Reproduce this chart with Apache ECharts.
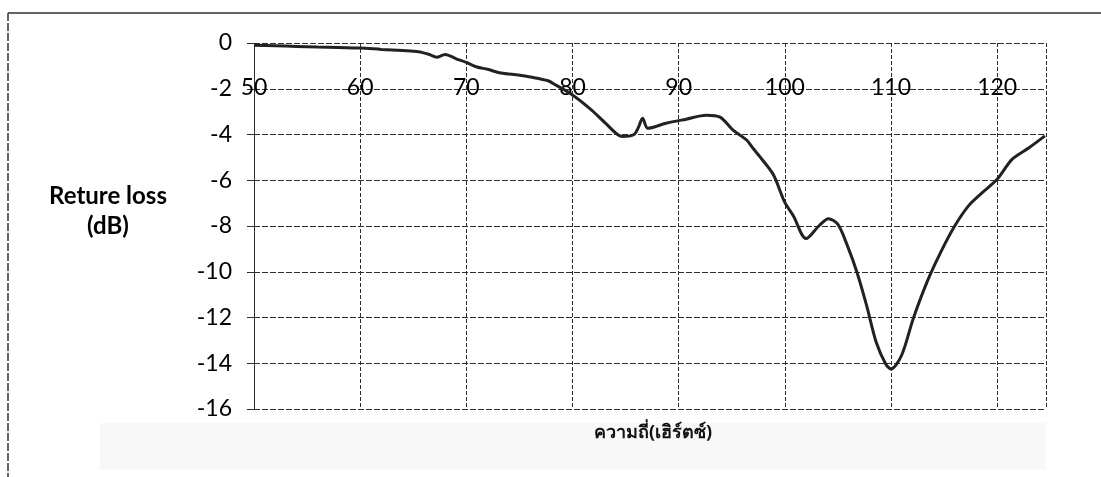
<!DOCTYPE html>
<html>
<head>
<meta charset="utf-8">
<script src="https://cdn.jsdelivr.net/npm/echarts@6/dist/echarts.min.js"></script>
<style>
html,body{margin:0;padding:0;background:#fff;}
#chart{width:1101px;height:477px;}
</style>
</head>
<body>
<div id="chart"></div>
<script>
// Frequency values (x) and return loss (dB)
const freq = [50, 52, 54, 56, 58, 60, 62, 64, 65.5, 66.5, 67.2, 68, 69, 70, 71, 72, 73.1, 74.5, 76.2, 77.7, 78.4, 80, 81.8, 83.1, 84.7, 85.8, 86.2, 86.6, 87.1, 88.8, 90.7, 92.6, 93.9, 95.1, 96.4, 97.0, 97.7, 98.9, 100, 100.8, 102.0, 103.2, 104.1, 105.0, 105.9, 106.8, 107.7, 108.6, 109.5, 110.0, 111.0, 112.1, 113.4, 114.7, 116.0, 117.3, 118.6, 120, 121.4, 123.0, 124.5];
const loss = [-0.1, -0.12, -0.15, -0.18, -0.2, -0.22, -0.28, -0.33, -0.38, -0.5, -0.62, -0.5, -0.68, -0.85, -1.05, -1.15, -1.3, -1.38, -1.5, -1.65, -1.83, -2.27, -2.93, -3.5, -4.09, -4.0, -3.7, -3.29, -3.73, -3.51, -3.33, -3.16, -3.24, -3.8, -4.24, -4.6, -5.0, -5.74, -6.97, -7.55, -8.55, -8.0, -7.68, -7.93, -8.87, -10.03, -11.47, -13.07, -14.03, -14.25, -13.65, -12.04, -10.44, -9.13, -8.0, -7.12, -6.54, -5.96, -5.09, -4.58, -4.06];
const xTicks = [50, 60, 70, 80, 90, 100, 110, 120];
const yTitle = 'Reture loss\n(dB)';
const xTitle = 'ความถี่(เฮิร์ตซ์)';

const chart = echarts.init(document.getElementById('chart'));
const gridCol = '#2e2e2e';
chart.setOption({
  animation: false,
  backgroundColor: '#fff',
  grid: {left: 254, right: 55, top: 43, bottom: 68},
  xAxis: {
    type: 'value', position: 'top', min: 50, max: 124.6, interval: 10,
    axisLine: {show: false},
    axisTick: {show: false},
    axisLabel: {
      inside: true, margin: 33, fontSize: 23, color: '#000', fontFamily: 'Lato',
      formatter: v => xTicks.includes(v) ? String(v) : ''
    },
    splitLine: {show: true, lineStyle: {color: gridCol, type: [4, 2], width: 1}}
  },
  yAxis: {
    type: 'value', min: -16, max: 0, interval: 2,
    axisLine: {show: true, lineStyle: {color: gridCol, type: [4, 2]}},
    axisTick: {show: true, length: 7, lineStyle: {color: gridCol}},
    axisLabel: {margin: 22, fontSize: 23, color: '#000', fontFamily: 'Lato'},
    splitLine: {show: true, lineStyle: {color: gridCol, type: [6, 2], width: 1.2}}
  },
  series: [{
    type: 'line',
    data: freq.map((f, i) => [f, loss[i]]),
    showSymbol: false,
    smooth: 0.3,
    lineStyle: {color: '#222', width: 3},
    z: 5
  }],
  graphic: [
    {type: 'rect', shape: {x: 100, y: 423, width: 946, height: 47}, style: {fill: '#f8f8f8'}, z: -10},
    {type: 'line', shape: {x1: 8, y1: 13, x2: 1101, y2: 13}, style: {stroke: '#333', lineWidth: 1.5}},
    {type: 'line', shape: {x1: 8, y1: 13, x2: 8, y2: 477}, style: {stroke: '#333', lineWidth: 1.5, lineDash: [8, 2]}},
    {type: 'text', x: 108, y: 181, style: {text: yTitle, font: 'bold 24px Lato', fill: '#000', textAlign: 'center', lineHeight: 30}},
    {type: 'text', x: 653, y: 424, style: {text: xTitle, font: 'bold 18px "Noto Sans", sans-serif', fill: '#111', textAlign: 'center'}}
  ]
});
</script>
</body>
</html>
